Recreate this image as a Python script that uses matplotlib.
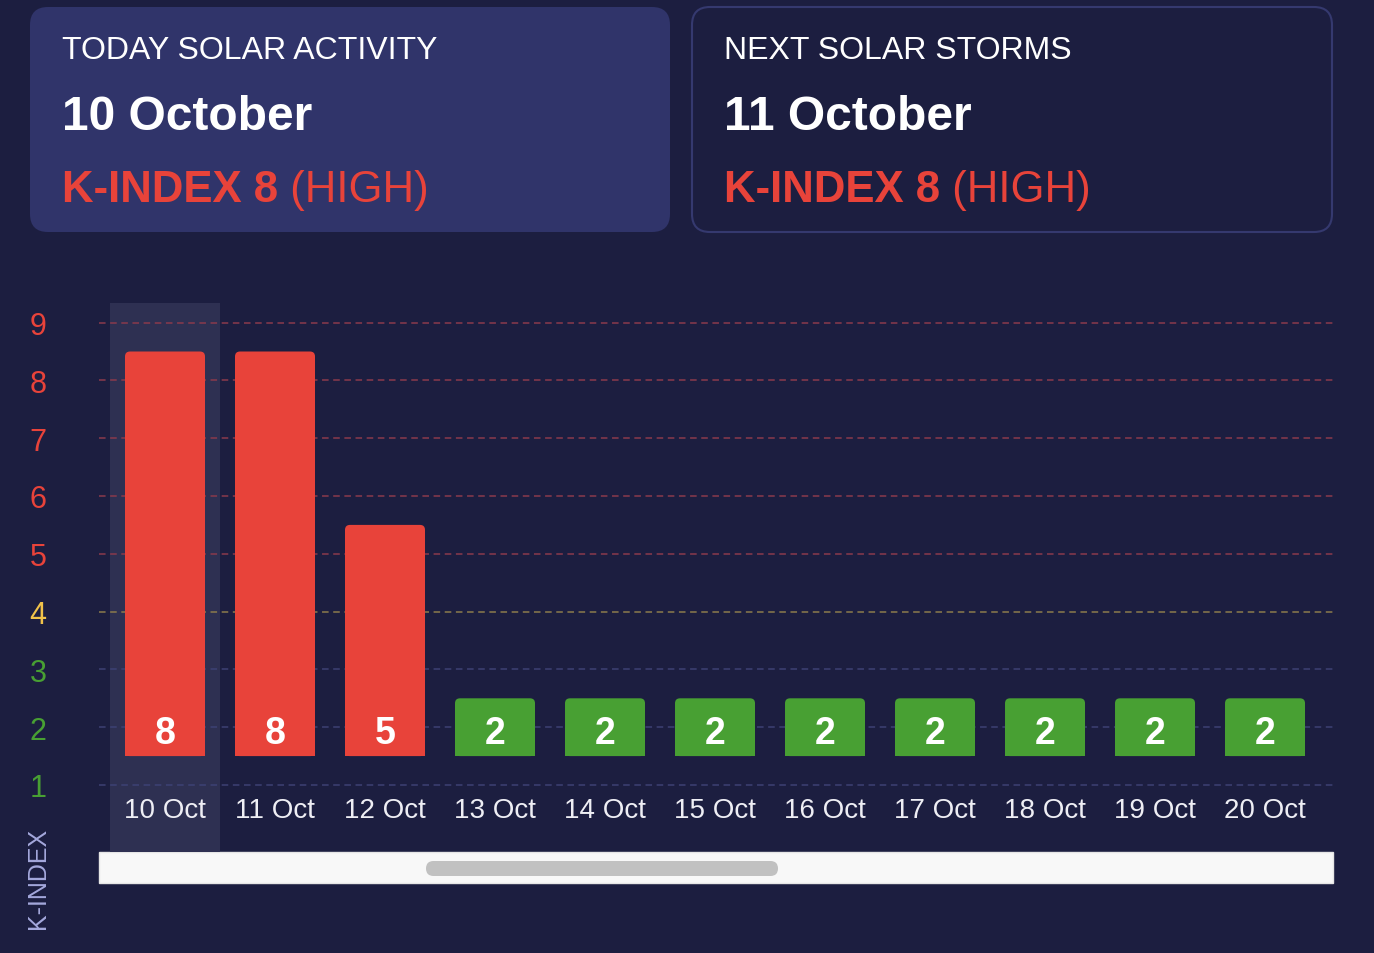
import numpy as np
import matplotlib.pyplot as plt
from matplotlib.patches import FancyBboxPatch, Rectangle

# data
dates = ['10 Oct', '11 Oct', '12 Oct', '13 Oct', '14 Oct', '15 Oct',
         '16 Oct', '17 Oct', '18 Oct', '19 Oct', '20 Oct']
kindex = [8, 8, 5, 2, 2, 2, 2, 2, 2, 2, 2]
levels = [1, 2, 3, 4, 5, 6, 7, 8, 9]
today_title, today_date, today_k = 'TODAY SOLAR ACTIVITY', '10 October', 8
next_title, next_date, next_k = 'NEXT SOLAR STORMS', '11 October', 8

# colours
BG = '#1c1e40'
CARD = '#30346a'
RED = '#e8433a'
YELLOW = '#f0c24a'
GREEN = '#48a033'
FONT = 'Liberation Sans'


def level_color(v):
    if v >= 5:
        return RED
    if v == 4:
        return YELLOW
    return GREEN


def grid_color(v):
    if v >= 5:
        return '#8a3a4c'
    if v == 4:
        return '#8c7b4c'
    return '#3d4174'


W, H = 1374, 954
fig = plt.figure(figsize=(W / 100, H / 100), dpi=100, facecolor=BG)

# overlay in pixel coords for the cards and scrollbar
ov = fig.add_axes([0, 0, 1, 1], zorder=0)
ov.set_xlim(0, W)
ov.set_ylim(H, 0)
ov.axis('off')

ov.add_patch(FancyBboxPatch((30, 8), 640, 225, boxstyle='round,pad=0,rounding_size=18',
                            fc=CARD, ec='none'))
ov.add_patch(FancyBboxPatch((692, 8), 640, 225, boxstyle='round,pad=0,rounding_size=18',
                            fc=BG, ec='#35396f', lw=1.5))


def card_text(x, title, date, k):
    ov.text(x, 59, title, color='white', fontsize=23, family=FONT, va='baseline')
    ov.text(x, 130, date, color='white', fontsize=34.5, family=FONT,
            fontweight='bold', va='baseline')
    t1 = ov.text(x, 202, f'K-INDEX {k}', color=RED, fontsize=31.5, family=FONT,
                 fontweight='bold', va='baseline')
    lvl = 'HIGH' if k >= 5 else ('MEDIUM' if k == 4 else 'LOW')
    ov.annotate(f' ({lvl})', xy=(1, 202), xycoords=(t1, 'data'), color=RED,
                fontsize=31.5, family=FONT, va='baseline', ha='left')


card_text(62, today_title, today_date, today_k)
card_text(724, next_title, next_date, next_k)

# scrollbar
ov.add_patch(Rectangle((99, 853), 1234, 31, fc='#f8f8f8', ec='#e6e6e6', lw=1))
ov.add_patch(FancyBboxPatch((426, 862), 352, 15, boxstyle='round,pad=0,rounding_size=7.5',
                            fc='#c1c1c1', ec='none'))

# chart axes
y_top_px, y_bot_px = 290, 853
px_per = 57.8
ax = fig.add_axes([99 / W, (H - y_bot_px) / H, 1234 / W, (y_bot_px - y_top_px) / H], zorder=1)
ax.set_facecolor('none')
x = np.arange(len(dates))
ax.set_xlim(-0.6, 10.618)
ax.set_ylim(1 - (y_bot_px - 786) / px_per, 1 + (786 - y_top_px) / px_per)

# highlighted column for today
hl_top = 1 + (786 - 304) / px_per
ax.bar(0, hl_top + 1, bottom=-1, width=1.0, color='#2e3052', zorder=0)

for v in levels:
    ax.axhline(v, color=grid_color(v), lw=1.1, dashes=(4.3, 3.0), zorder=1)

# bars with rounded top corners
colors = [level_color(v) for v in kindex]
bars = ax.bar(x, np.array(kindex) - 1.0, bottom=1.5, width=80 / 110, color=colors, zorder=2)
rad = 5 / 110
asp = 110 / px_per
for b in bars:
    bx, by, bw, bh = b.get_x(), b.get_y(), b.get_width(), b.get_height()
    fc = b.get_facecolor()
    b.set_visible(False)
    ax.add_patch(FancyBboxPatch((bx, by), bw, bh,
                                boxstyle=f'round,pad=0,rounding_size={rad}',
                                mutation_aspect=asp, fc=fc, ec='none', zorder=2))
    ax.add_patch(Rectangle((bx, by), bw, bh / 2, fc=fc, ec='none', zorder=2))

for xi, v, d in zip(x, kindex, dates):
    ax.text(xi, 1.73, str(v), color='white', fontsize=27, fontweight='bold',
            family=FONT, ha='center', va='baseline', zorder=3)
    ax.text(xi, 0.45, d, color='#eeeef4', fontsize=20, family=FONT,
            ha='center', va='baseline', zorder=3)

ax.set_xticks([])
ax.set_yticks(levels)
ax.set_yticklabels([str(v) for v in levels], fontsize=22, family=FONT)
for lab, v in zip(ax.get_yticklabels(), levels):
    lab.set_color(level_color(v))
    lab.set_ha('center')
ax.tick_params(axis='y', length=0, pad=44)
for s in ax.spines.values():
    s.set_visible(False)

ov.text(38, 878, 'K-INDEX', rotation=90, color='#a4a8dc', fontsize=18, family=FONT,
        ha='center', va='center')

fig.savefig('out.png', dpi=100, facecolor=BG)
